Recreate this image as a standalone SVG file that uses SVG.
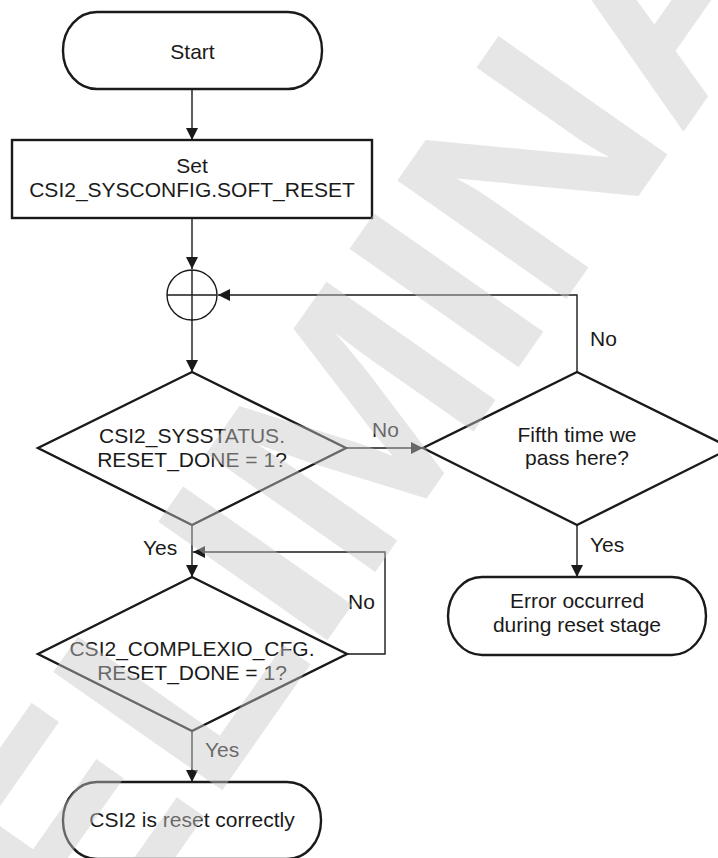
<svg xmlns="http://www.w3.org/2000/svg" width="718" height="858" viewBox="0 0 718 858">
  <style>
    .shape { fill: #ffffff; stroke: #1a1a1a; stroke-width: 2.4; }
    .wire { fill: none; stroke: #1a1a1a; stroke-width: 1.4; }
    .txt { font-family: "Liberation Sans", Arial, sans-serif; font-size: 21px; fill: #1a1a1a; }
    .mid { text-anchor: middle; }
    .mark { font-family: "Liberation Sans", Arial, sans-serif; font-weight: bold; font-size: 300px; fill: #c8c8c8; fill-opacity: 0.45; }
  </style>
  <defs>
    <marker id="arrow" markerUnits="userSpaceOnUse" markerWidth="12" markerHeight="12" viewBox="0 0 12 12" refX="12" refY="6" orient="auto">
      <path d="M0,0 L12,6 L0,12 Z" fill="#1a1a1a"/>
    </marker>
  </defs>

  <rect width="718" height="858" fill="#ffffff"/>

  <!-- connectors -->
  <g id="connectors">
    <line class="wire" x1="192" y1="89" x2="192" y2="140" marker-end="url(#arrow)"/>
    <line class="wire" x1="192" y1="218" x2="192" y2="269" marker-end="url(#arrow)"/>
    <line class="wire" x1="192" y1="320" x2="192" y2="372" marker-end="url(#arrow)"/>
    <polyline class="wire" points="577,372 577,295 218,295" marker-end="url(#arrow)"/>
    <line class="wire" x1="345" y1="448" x2="423" y2="448" marker-end="url(#arrow)"/>
    <line class="wire" x1="577" y1="525" x2="577" y2="577" marker-end="url(#arrow)"/>
    <line class="wire" x1="192" y1="525" x2="192" y2="577" marker-end="url(#arrow)"/>
    <polyline class="wire" points="347,654 385,654 385,552 193,552" marker-end="url(#arrow)"/>
    <line class="wire" x1="192" y1="731" x2="192" y2="782" marker-end="url(#arrow)"/>
    <text class="txt" x="372" y="437">No</text>
    <text class="txt" x="590" y="346">No</text>
    <text class="txt" x="590" y="552">Yes</text>
    <text class="txt" x="143" y="555">Yes</text>
    <text class="txt" x="348" y="609">No</text>
    <text class="txt" x="205" y="757">Yes</text>
  </g>

  <!-- nodes -->
  <g id="start">
    <rect class="shape" x="63" y="12" width="259" height="77" rx="34" ry="38"/>
    <text class="txt mid" x="192.5" y="59">Start</text>
  </g>

  <g id="soft-reset">
    <rect class="shape" x="12" y="140" width="360" height="78"/>
    <text class="txt mid" x="192" y="173">Set</text>
    <text class="txt mid" x="192" y="197">CSI2_SYSCONFIG.SOFT_RESET</text>
  </g>

  <g id="join">
    <circle cx="192" cy="295" r="25" fill="#ffffff" stroke="#1a1a1a" stroke-width="1.4"/>
    <line class="wire" x1="192" y1="270" x2="192" y2="320"/>
    <line class="wire" x1="167" y1="295" x2="217" y2="295"/>
  </g>

  <g id="sysstatus-check">
    <polygon class="shape" points="192,372 346,448 192,525 38,448"/>
    <text class="txt mid" x="192" y="443">CSI2_SYSSTATUS.</text>
    <text class="txt mid" x="192" y="467">RESET_DONE = 1?</text>
  </g>

  <g id="retry-check">
    <polygon class="shape" points="577,372 731,448 577,525 423,448"/>
    <text class="txt mid" x="577" y="442">Fifth time we</text>
    <text class="txt mid" x="577" y="465">pass here?</text>
  </g>

  <g id="reset-error">
    <rect class="shape" x="448" y="577" width="258" height="78" rx="34" ry="39"/>
    <text class="txt mid" x="577" y="608">Error occurred</text>
    <text class="txt mid" x="577" y="632">during reset stage</text>
  </g>

  <g id="complexio-check">
    <polygon class="shape" points="192,577 347,654 192,731 38,654"/>
    <text class="txt mid" x="192" y="656">CSI2_COMPLEXIO_CFG.</text>
    <text class="txt mid" x="192" y="680">RESET_DONE = 1?</text>
  </g>

  <g id="reset-ok">
    <rect class="shape" x="63" y="782" width="258" height="77" rx="34" ry="38"/>
    <text class="txt mid" x="192" y="827">CSI2 is reset correctly</text>
  </g>

  <!-- draft watermark over the page -->
  <text class="mark" transform="translate(-143,1312) rotate(-55)">PRELIMINARY</text>
</svg>
